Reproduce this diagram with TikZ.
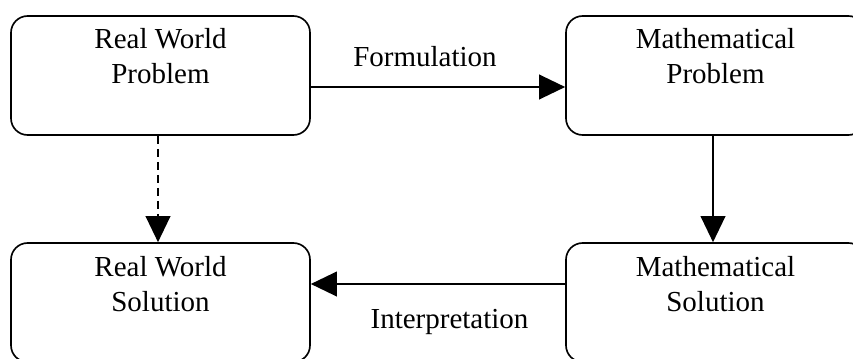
\documentclass[tikz,border=0pt]{standalone}
\usepackage{fontspec}
\setmainfont{Liberation Serif}
\usepackage{tikz}
\usetikzlibrary{arrows.meta}
\usetikzlibrary{shapes,positioning}
\tikzset{>={Triangle[length=0.78cm,width=0.74cm]},
  stage/.style={draw,rounded corners=0.5cm,line width=1.4pt,
    minimum width=8.97cm,minimum height=3.57cm,inner sep=0pt},
  boxlbl/.style={anchor=base,inner sep=0pt,font=\fontsize{24.75}{30}\selectfont},
  edgelbl/.style={anchor=base,inner sep=0pt,font=\fontsize{24.75}{30}\selectfont},
  flow/.style={->,line width=1.4pt}}
\newcommand{\boxtext}[2]{\begin{tabular}[t]{@{}c@{}}#1\\#2\end{tabular}}

\begin{document}
\begin{tikzpicture}[x=0.03cm,y=-0.03cm]

  \clip (0,0) rectangle (853,358);

  \node [stage] (rwp) at (160.5,75.5) {};
  \node [stage] (mp) at (715.5,75.5) {};
  \node [stage] (rws) at (160.5,302.5) {};
  \node [stage] (ms) at (715.5,302.5) {};


  \node [boxlbl] (rwpText) at (160.5,48.3) {\boxtext{Real World}{Problem}};
  \node [boxlbl] (mpText) at (715.5,48.3) {\boxtext{Mathematical}{Problem}};
  \node [boxlbl] (rwsText) at (160.5,276.7) {\boxtext{Real World}{Solution}};
  \node [boxlbl] (msText) at (715.5,276.7) {\boxtext{Mathematical}{Solution}};


  \draw [flow] ([yshift=-0.345cm]rwp.east) -- ([yshift=-0.345cm]mp.west);
  \draw [flow] ([xshift=-0.075cm]mp.south) -- ([xshift=-0.075cm]ms.north);
  \draw [flow] ([yshift=0.555cm]ms.west) -- ([yshift=0.555cm]rws.east);
  \draw [flow,dash pattern=on 0.24cm off 0.15cm] ([xshift=-0.075cm]rwp.south) -- ([xshift=-0.075cm]rws.north);


  \node [edgelbl] (form) at (425,66) {Formulation};
  \node [edgelbl] (interp) at (449.5,328) {Interpretation};

\end{tikzpicture}
\end{document}
